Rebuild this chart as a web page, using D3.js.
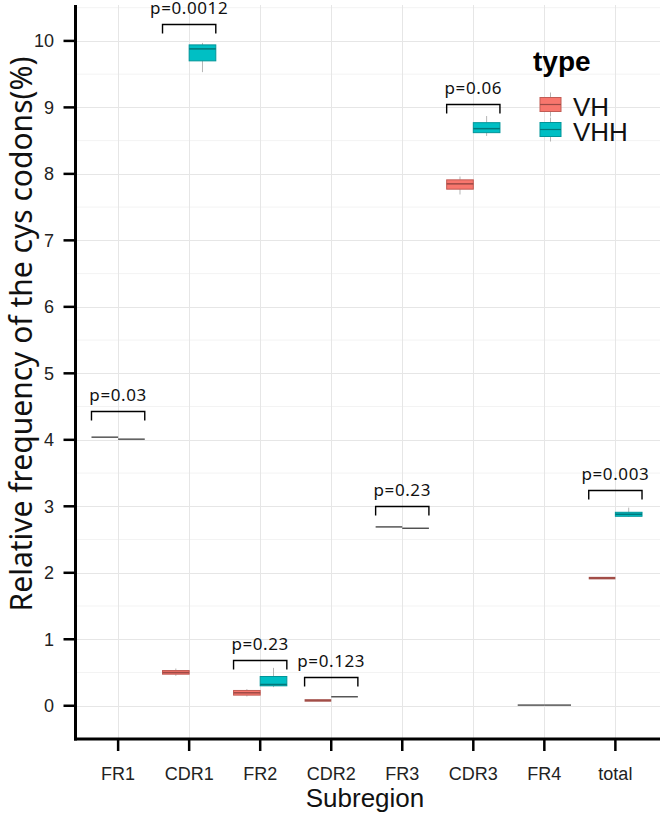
<!DOCTYPE html>
<html>
<head>
<meta charset="utf-8">
<script src="https://cdn.jsdelivr.net/npm/d3@7/dist/d3.min.js"></script>
<style>
  html, body { margin: 0; padding: 0; background: #ffffff; }
  svg { display: block; }
</style>
</head>
<body>
<div id="chart"></div>
<script>
// ---------------- data ----------------
const categories = ["FR1", "CDR1", "FR2", "CDR2", "FR3", "CDR3", "FR4", "total"];
const types = ["VH", "VHH"];
const typeColors = ["#F8766D", "#00BFC4"];

// five-number summaries [min, q1, median, q3, max]
const vhStats = [
  [4.04, 4.04, 4.04, 4.04, 4.04],
  [0.45, 0.475, 0.50, 0.53, 0.56],
  [0.14, 0.16, 0.195, 0.23, 0.25],
  [0.08, 0.08, 0.08, 0.085, 0.09],
  [2.69, 2.69, 2.69, 2.69, 2.69],
  [7.69, 7.77, 7.85, 7.91, 7.96],
  [0.01, 0.01, 0.01, 0.01, 0.01],
  [1.91, 1.915, 1.92, 1.93, 1.935]
];
const vhhStats = [
  [4.01, 4.01, 4.01, 4.01, 4.01],
  [9.53, 9.70, 9.88, 9.94, 9.97],
  [0.28, 0.30, 0.32, 0.44, 0.57],
  [0.135, 0.135, 0.135, 0.135, 0.135],
  [2.67, 2.67, 2.67, 2.67, 2.67],
  [8.57, 8.62, 8.68, 8.77, 8.87],
  [0.01, 0.01, 0.01, 0.01, 0.01],
  [2.84, 2.85, 2.88, 2.91, 2.98]
];
const pLabels = ["p=0.03", "p=0.0012", "p=0.23", "p=0.123", "p=0.23", "p=0.06", null, "p=0.003"];
const bracketY = [4.43, 10.26, 0.69, 0.44, 3.01, 9.05, null, 3.25];
const yTicks = [0, 1, 2, 3, 4, 5, 6, 7, 8, 9, 10];
const yMinorTicks = [-0.5, 0.5, 1.5, 2.5, 3.5, 4.5, 5.5, 6.5, 7.5, 8.5, 9.5, 10.5];

(function () {
// ---------------- layout ----------------
const W = 660, H = 813;
const pL = 75.5, pR = 658, pT = 5, pB = 739;

const svg = d3.select("#chart").append("svg").attr("width", W).attr("height", H);

const x = d3.scalePoint().domain(categories).range([pL, pR]).padding(0.6);
const step = x.step();
const boxW = step * 0.375;
const y = d3.scaleLinear().domain([-0.5, 10.54]).range([pB, pT]);

// grid
const grid = svg.append("g");
grid.selectAll(".ymin").data(yMinorTicks.filter(v => y(v) > pT && y(v) < pB)).join("line")
  .attr("x1", pL).attr("x2", W).attr("y1", d => y(d)).attr("y2", d => y(d))
  .attr("stroke", "#f3f3f3").attr("stroke-width", 1);
grid.selectAll(".ymaj").data(yTicks).join("line")
  .attr("x1", pL).attr("x2", W).attr("y1", d => Math.round(y(d)) + 0.5).attr("y2", d => Math.round(y(d)) + 0.5)
  .attr("stroke", "#e6e6e6").attr("stroke-width", 1);
grid.selectAll(".xmaj").data(categories).join("line")
  .attr("x1", d => Math.round(x(d)) + 0.5).attr("x2", d => Math.round(x(d)) + 0.5)
  .attr("y1", pT).attr("y2", pB)
  .attr("stroke", "#e6e6e6").attr("stroke-width", 1);

// boxes
const statsByType = [vhStats, vhhStats];
const boxes = svg.append("g");
types.forEach((t, ti) => {
  const col = typeColors[ti];
  const off = (ti === 0 ? -1 : 1) * boxW / 2;
  statsByType[ti].forEach((s, ci) => {
    const cx = x(categories[ci]) + off;
    const [mn, q1, md, q3, mx] = s;
    const g = boxes.append("g");
    g.append("line").attr("x1", cx).attr("x2", cx).attr("y1", y(q3)).attr("y2", y(mx))
      .attr("stroke", "#b5b5b5").attr("stroke-width", 1);
    g.append("line").attr("x1", cx).attr("x2", cx).attr("y1", y(q1)).attr("y2", y(mn))
      .attr("stroke", "#b5b5b5").attr("stroke-width", 1);
    const flat = (y(q1) - y(q3)) < 1;
    if (!flat) {
      g.append("rect").attr("x", cx - boxW / 2).attr("width", boxW)
        .attr("y", y(q3)).attr("height", y(q1) - y(q3))
        .attr("fill", col).attr("stroke", d3.color(col).darker(0.7)).attr("stroke-width", 1);
      g.append("line").attr("x1", cx - boxW / 2).attr("x2", cx + boxW / 2)
        .attr("y1", y(md)).attr("y2", y(md))
        .attr("stroke", d3.color(col).darker(1.3)).attr("stroke-width", 1.5);
    } else {
      const isThin = s[4] - s[0] > 0.001;
      g.append("line").attr("x1", cx - boxW / 2).attr("x2", cx + boxW / 2)
        .attr("y1", y(md)).attr("y2", y(md))
        .attr("stroke", isThin ? d3.color(col).darker(1.2) : "#3c3c3c").attr("stroke-width", isThin ? 2.5 : 1.3);
    }
  });
});

// brackets & p labels
const br = svg.append("g");
categories.forEach((c, ci) => {
  if (pLabels[ci] == null) return;
  const x1 = x(c) - boxW, x2 = x(c) + boxW;
  const yb = Math.round(y(bracketY[ci])) + 0.5;
  br.append("path")
    .attr("d", `M${x1},${yb + 9}V${yb}H${x2}V${yb + 9}`)
    .attr("fill", "none").attr("stroke", "#000").attr("stroke-width", 1.4);
  br.append("text").attr("x", x(c)).attr("y", yb - 11)
    .attr("text-anchor", "middle")
    .attr("font-family", "'Noto Sans', 'Open Sans', sans-serif")
    .attr("font-size", 17).attr("letter-spacing", 0.6).attr("fill", "#111")
    .text(pLabels[ci]);
});

// axes
const axisG = svg.append("g");
axisG.append("line").attr("x1", pL).attr("x2", pL).attr("y1", pT).attr("y2", pB + 1.5)
  .attr("stroke", "#000").attr("stroke-width", 3);
axisG.append("line").attr("x1", pL - 1.5).attr("x2", W).attr("y1", pB).attr("y2", pB)
  .attr("stroke", "#000").attr("stroke-width", 3);
axisG.selectAll(".yt").data(yTicks).join("line")
  .attr("x1", pL - 12).attr("x2", pL).attr("y1", d => y(d)).attr("y2", d => y(d))
  .attr("stroke", "#000").attr("stroke-width", 2.5);
axisG.selectAll(".ytl").data(yTicks).join("text")
  .attr("x", 54).attr("y", d => y(d)).attr("dy", "0.36em")
  .attr("text-anchor", "end")
  .attr("font-family", "'Liberation Sans', Arial, sans-serif").attr("font-size", 18).attr("fill", "#222")
  .text(d => d);
axisG.selectAll(".xt").data(categories).join("line")
  .attr("x1", d => x(d)).attr("x2", d => x(d)).attr("y1", pB).attr("y2", pB + 12)
  .attr("stroke", "#000").attr("stroke-width", 2.5);
axisG.selectAll(".xtl").data(categories).join("text")
  .attr("x", d => x(d)).attr("y", 780)
  .attr("text-anchor", "middle")
  .attr("font-family", "'Liberation Sans', Arial, sans-serif").attr("font-size", 18).attr("fill", "#222")
  .text(d => d);

// axis titles
svg.append("text").attr("x", 365).attr("y", 807).attr("text-anchor", "middle")
  .attr("font-family", "'Liberation Sans', Arial, sans-serif").attr("font-size", 26).attr("fill", "#111")
  .text("Subregion");
svg.append("text").attr("transform", "translate(32,334) rotate(-90)").attr("text-anchor", "middle")
  .attr("font-family", "'Noto Sans', 'Open Sans', sans-serif").attr("font-size", 30).attr("fill", "#111")
  .text("Relative frequency of the cys codons(%)");

// legend
const lg = svg.append("g");
lg.append("text").attr("x", 533).attr("y", 71)
  .attr("font-family", "'Liberation Sans', Arial, sans-serif").attr("font-weight", "bold")
  .attr("font-size", 28).attr("fill", "#000").text("type");
types.forEach((t, i) => {
  const ky = 97.5 + i * 25;
  const kx = 540, kw = 21, kh = 14;
  lg.append("line").attr("x1", kx + kw / 2).attr("x2", kx + kw / 2).attr("y1", ky - 5).attr("y2", ky + kh + 5)
    .attr("stroke", "#b5b5b5").attr("stroke-width", 1);
  lg.append("rect").attr("x", kx).attr("y", ky).attr("width", kw).attr("height", kh)
    .attr("fill", typeColors[i]).attr("stroke", d3.color(typeColors[i]).darker(0.7)).attr("stroke-width", 1);
  lg.append("line").attr("x1", kx).attr("x2", kx + kw).attr("y1", ky + kh / 2).attr("y2", ky + kh / 2)
    .attr("stroke", d3.color(typeColors[i]).darker(1.3)).attr("stroke-width", 1.2);
  lg.append("text").attr("x", 573).attr("y", ky + 18)
    .attr("font-family", "'Liberation Sans', Arial, sans-serif").attr("font-size", 26).attr("fill", "#111")
    .text(t);
});
})();
</script>
</body>
</html>
